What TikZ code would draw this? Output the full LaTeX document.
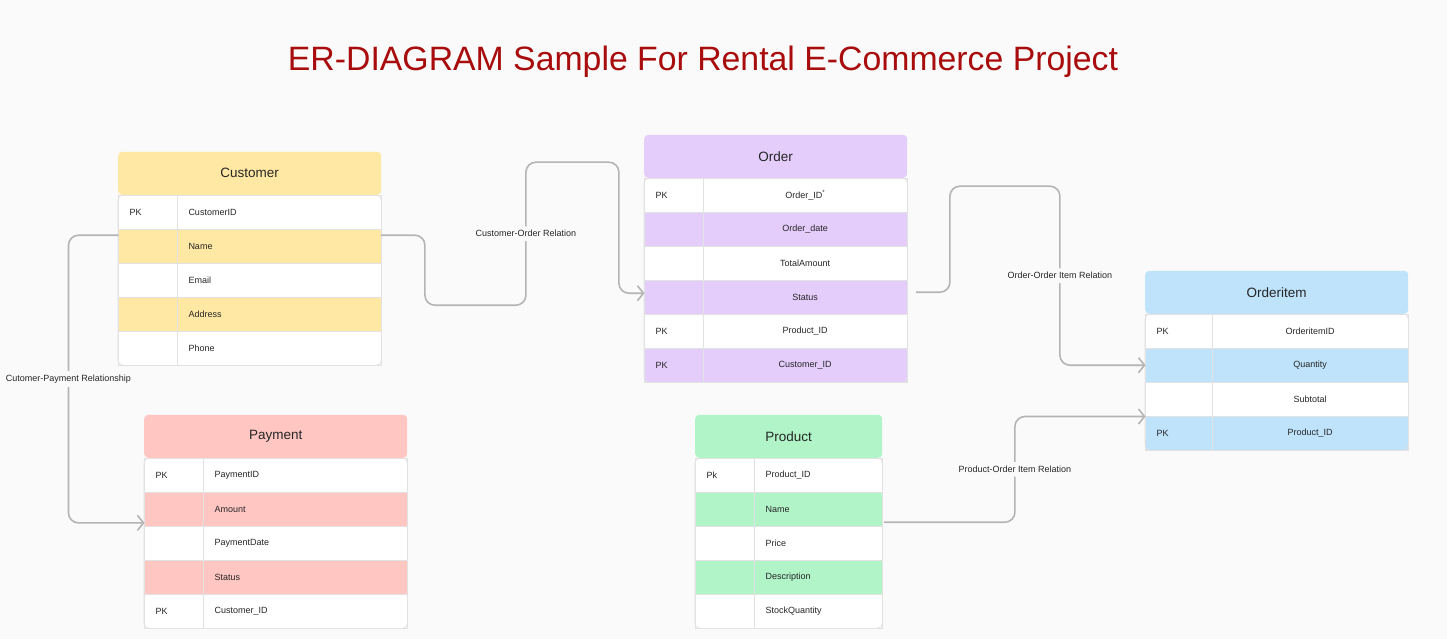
\documentclass[tikz,border=0pt]{standalone}
\usepackage{fontspec}
\setmainfont{Liberation Sans}
\usetikzlibrary{matrix, positioning, arrows.meta}

\definecolor{bgcol}{HTML}{FAFAFA}
\definecolor{titlecol}{HTML}{A80C0C}
\definecolor{textcol}{HTML}{262626}
\definecolor{cellline}{HTML}{E2E2E2}
\definecolor{linkcol}{HTML}{B4B4B4}
\definecolor{custfill}{HTML}{FFE8A3}
\definecolor{orderfill}{HTML}{E4CCFB}
\definecolor{itemfill}{HTML}{BEE3FB}
\definecolor{payfill}{HTML}{FFC6C2}
\definecolor{prodfill}{HTML}{B0F4C8}

\tikzset{
  erbody/.style = {
    matrix of nodes,
    column sep = 0pt,
    row sep = 0pt,
    nodes in empty cells,
    inner sep = 0pt,
    anchor = north west,
    nodes = {
      rectangle, draw = cellline, line width = 0.6pt, fill = white,
      minimum height = 33.4pt, outer sep = 0pt, inner xsep = 11pt,
      inner ysep = 0pt, anchor = center, text = textcol,
      font = \fontsize{9}{11}\selectfont
    }},
  erhead/.style = {
    rectangle, rounded corners = 4pt, minimum height = 43pt,
    inner sep = 0pt, text = textcol, font = \fontsize{13.5}{16}\selectfont},
  erframe/.style = {draw = cellline, line width = 0.8pt, rounded corners = 5pt},
  link/.style = {
    draw = linkcol, line width = 1.6pt, rounded corners = 10pt,
    -{Straight Barb[length = 6pt, width = 15pt]}},
  rel/.style = {
    fill = bgcol, inner xsep = 2pt, inner ysep = 4pt, text = textcol,
    font = \fontsize{9}{11}\selectfont}
}

\begin{document}
\begin{tikzpicture}[x = 1pt, y = -1pt]
  \useasboundingbox[fill = bgcol] (0,0) rectangle (1447,639);

  \node [text = titlecol, font = \fontsize{33.8}{38}\selectfont] (title) at (703,62)
    {ER-DIAGRAM Sample For Rental E-Commerce Project};

  % Customer
  \matrix (customer) [
    erbody,
    column 1/.style = {nodes = {text width = 36.4pt, align = left}},
    column 2/.style = {nodes = {text width = 181.4pt, align = left}},
    row 2/.style = {nodes = {fill = custfill}},
    row 4/.style = {nodes = {fill = custfill}}
  ] at (118,195) {
    PK & CustomerID \\
       & Name       \\
       & Email      \\
       & Address    \\
       & Phone      \\
  };
  \draw [erframe] (customer.north west) rectangle (customer.south east);
  \node [erhead, fill = custfill, minimum width = 263pt, above = 0pt of customer]
    (customer-head) {Customer};

  % Order
  \matrix (order) [
    erbody,
    column 1/.style = {nodes = {text width = 36.4pt, align = left}},
    column 2/.style = {nodes = {text width = 181.4pt, align = center}},
    row 2/.style = {nodes = {fill = orderfill}},
    row 4/.style = {nodes = {fill = orderfill}},
    row 6/.style = {nodes = {fill = orderfill}}
  ] at (644,178) {
    PK & Order\_ID\textsuperscript{*} \\
       & Order\_date  \\
       & TotalAmount  \\
       & Status       \\
    PK & Product\_ID  \\
    PK & Customer\_ID \\
  };
  \draw [erframe] (order.north west) rectangle (order.south east);
  \node [erhead, fill = orderfill, minimum width = 263pt, above = 0pt of order]
    (order-head) {Order};

  % Orderitem
  \matrix (orderitem) [
    erbody,
    column 1/.style = {nodes = {text width = 44.4pt, align = left}},
    column 2/.style = {nodes = {text width = 173.4pt, align = center}},
    row 2/.style = {nodes = {fill = itemfill}},
    row 4/.style = {nodes = {fill = itemfill}}
  ] at (1145,314) {
    PK & OrderitemID \\
       & Quantity    \\
       & Subtotal    \\
    PK & Product\_ID \\
  };
  \draw [erframe] (orderitem.north west) rectangle (orderitem.south east);
  \node [erhead, fill = itemfill, minimum width = 263pt, above = 0pt of orderitem]
    (orderitem-head) {Orderitem};

  % Payment
  \matrix (payment) [
    erbody,
    column 1/.style = {nodes = {text width = 36.4pt, align = left}},
    column 2/.style = {nodes = {text width = 181.4pt, align = left}},
    row 2/.style = {nodes = {fill = payfill}},
    row 4/.style = {nodes = {fill = payfill}}
  ] at (144,458) {
    PK & PaymentID    \\
       & Amount       \\
       & PaymentDate  \\
       & Status       \\
    PK & Customer\_ID \\
  };
  \draw [erframe] (payment.north west) rectangle (payment.south east);
  \node [erhead, fill = payfill, minimum width = 263pt, above = 0pt of payment]
    (payment-head) {Payment};

  % Product
  \matrix (product) [
    erbody,
    column 1/.style = {nodes = {text width = 36.4pt, align = left}},
    column 2/.style = {nodes = {text width = 105.4pt, align = left}},
    row 2/.style = {nodes = {fill = prodfill}},
    row 4/.style = {nodes = {fill = prodfill}}
  ] at (695,458) {
    Pk & Product\_ID    \\
       & Name           \\
       & Price          \\
       & Description    \\
       & StockQuantity  \\
  };
  \draw [erframe] (product.north west) rectangle (product.south east);
  \node [erhead, fill = prodfill, minimum width = 187pt, above = 0pt of product]
    (product-head) {Product};

  % relations
  \draw [link] ([yshift = 11pt] customer-2-2.east) -- ++(44,0) |- ++(101,70)
    |- node [rel, pos = 0.25] {Customer-Order Relation} ++(93,-143)
    |- ([yshift = 4pt] order-4-1.west);
  \draw [link] ([xshift = 9pt, yshift = 5pt] order-4-2.east) -- ++(34,0)
    |- ++(110,-106)
    |- node [rel, pos = 0.25] {Order-Order Item Relation} (orderitem-2-1.west);
  \draw [link] ([xshift = 2pt, yshift = -13pt] product-2-2.east) -- ++(131,0)
    |- node [rel, pos = 0.25] {Product-Order Item Relation}
    (orderitem-4-1.north west);
  \draw [link] ([yshift = 11pt] customer-2-1.west) -- ++(-50,0)
    |- node [rel, pos = 0.25] {Cutomer-Payment Relationship}
    ([yshift = 3pt] payment-2-1.south west);
\end{tikzpicture}
\end{document}
